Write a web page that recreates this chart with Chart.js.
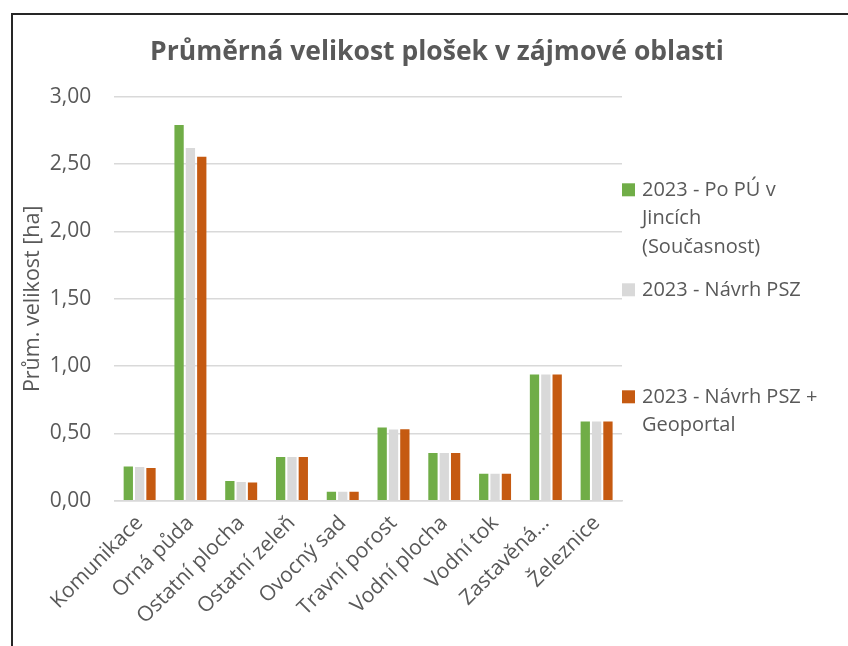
<!DOCTYPE html>
<html>
<head>
<meta charset="utf-8">
<script src="https://cdn.jsdelivr.net/npm/chart.js@4/dist/chart.umd.min.js"></script>
<style>
    html, body { margin: 0; padding: 0; background: #fff; overflow: hidden; }
    #wrap { position: relative; width: 848px; height: 646px; overflow: hidden; }
    #myChart { position: absolute; left: 0; top: 0; }
    .frame {
        position: absolute; left: 11px; top: 13px; width: 900px; height: 700px;
        border-top: 2px solid #262626; border-left: 2px solid #262626;
        pointer-events: none;
    }
</style>
</head>
<body>
<div id="wrap">
    <canvas id="myChart" width="854" height="646"></canvas>
    <div class="frame"></div>
</div>
<script>
// data
const categories = [
    'Komunikace', 'Orná půda', 'Ostatní plocha', 'Ostatní zeleň', 'Ovocný sad',
    'Travní porost', 'Vodní plocha', 'Vodní tok', 'Zastavěná…', 'Železnice'
];
const seriesNames = [
    '2023 - Po PÚ v Jincích (Současnost)',
    '2023 - Návrh PSZ',
    '2023 - Návrh PSZ + Geoportal'
];
// legend text is wrapped like in the original
const legendLines = [
    ['2023 - Po PÚ v', 'Jincích', '(Současnost)'],
    ['2023 - Návrh PSZ'],
    ['2023 - Návrh PSZ +', 'Geoportal']
];
const poPU = [0.255, 2.79, 0.147, 0.325, 0.067, 0.544, 0.355, 0.20, 0.938, 0.588];
const navrhPSZ = [0.25, 2.62, 0.139, 0.325, 0.067, 0.529, 0.355, 0.20, 0.938, 0.588];
const navrhGeo = [0.243, 2.554, 0.136, 0.325, 0.067, 0.531, 0.355, 0.20, 0.938, 0.588];
const yTicks = [0, 0.5, 1, 1.5, 2, 2.5, 3];

const colors = ['#70AD47', '#D9D9D9', '#C55A11'];
const textColor = '#595959';
const font = "'Open Sans', sans-serif";

// legend on the right as its own layout box (multi-line entries)
const rightLegend = {
    id: 'rightLegend',
    beforeInit(chart) {
        const box = {
            position: 'right',
            weight: 1000,
            fullSize: false,
            options: {},
            isHorizontal() { return false; },
            update(maxWidth, maxHeight) {
                this.width = 232;
                this.height = maxHeight;
            },
            draw() {
                const c = chart.ctx;
                const area = chart.chartArea;
                const x = this.left;
                const offsets = [93, 193, 300];
                const lineH = 28.5;
                c.save();
                c.font = "20px " + font;
                c.textBaseline = 'middle';
                legendLines.forEach((lines, i) => {
                    const y0 = area.top + offsets[i];
                    c.fillStyle = colors[i];
                    c.fillRect(x, y0 - 6.5, 13, 13);
                    c.fillStyle = textColor;
                    lines.forEach((t, j) => {
                        c.fillText(t, x + 20, y0 + j * lineH);
                    });
                });
                c.restore();
            }
        };
        if (Chart.layouts) {
            Chart.layouts.addBox(chart, box);
        } else {
            box._layers = () => [{ z: 0, draw() { box.draw(); } }];
            chart.boxes.push(box);
        }
    }
};

const ctx = document.getElementById('myChart');

new Chart(ctx, {
    type: 'bar',
    data: {
        labels: categories,
        datasets: [
            { label: seriesNames[0], data: poPU, backgroundColor: colors[0] },
            { label: seriesNames[1], data: navrhPSZ, backgroundColor: colors[1] },
            { label: seriesNames[2], data: navrhGeo, backgroundColor: colors[2] }
        ]
    },
    options: {
        responsive: false,
        animation: false,
        categoryPercentage: 0.67,
        barPercentage: 0.82,
        layout: {
            padding: { left: 20, right: 0, top: 0, bottom: 7 }
        },
        plugins: {
            legend: { display: false },
            tooltip: { enabled: false },
            title: {
                display: true,
                text: 'Průměrná velikost plošek v zájmové oblasti',
                color: textColor,
                font: { family: font, size: 26.5, weight: 'bold' },
                padding: { top: 37, bottom: 28 }
            }
        },
        scales: {
            x: {
                grid: { display: false, drawTicks: false },
                border: { color: '#D9D9D9', width: 1.5 },
                ticks: {
                    color: textColor,
                    font: { family: font, size: 21 },
                    maxRotation: 45,
                    minRotation: 45,
                    padding: 10
                },
                // rotated labels may run out to the left, like in the original
                afterFit(scale) {
                    scale.paddingLeft = 0;
                    scale.paddingRight = 0;
                }
            },
            y: {
                min: 0,
                max: 3,
                afterBuildTicks(axis) {
                    axis.ticks = yTicks.map(v => ({ value: v }));
                },
                // chart.js counts the tick padding twice, drop one
                afterFit(axis) {
                    axis.width -= 23;
                },
                grid: { color: '#D9D9D9', lineWidth: 1.5, drawTicks: false },
                border: { display: false },
                ticks: {
                    color: textColor,
                    font: { family: font, size: 21 },
                    padding: 23,
                    callback: v => v.toFixed(2).replace('.', ',')
                },
                title: {
                    display: true,
                    text: 'Prům. velikost [ha]',
                    color: textColor,
                    font: { family: font, size: 21.5 },
                    padding: { top: 0, bottom: 4 }
                }
            }
        }
    },
    plugins: [rightLegend]
});
</script>
</body>
</html>
